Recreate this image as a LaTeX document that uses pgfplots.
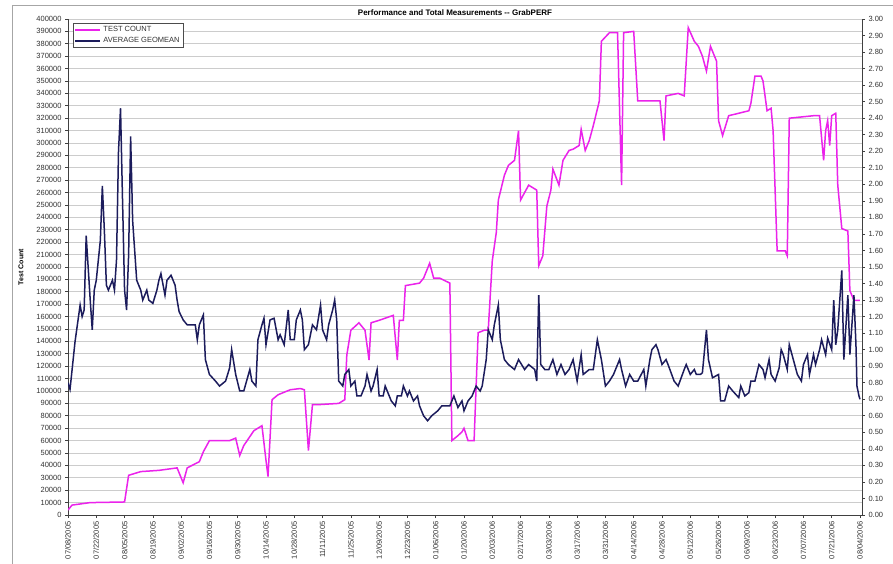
\documentclass[border=0pt]{standalone}
\usepackage{pgfplots}
\pgfplotsset{compat=1.18}
\usepackage{fontspec}
\setmainfont{Liberation Sans}
\definecolor{tcmag}{RGB}{235,35,235}
\definecolor{gmnavy}{RGB}{28,28,92}
\pgfplotstableread{
day count
0 4000
2 8000
11 10000
28 10500
30 32000
36 35000
45 36000
54 38000
57 26000
59 38000
65 43000
67 51000
70 60000
80 60000
83 62000
85 48000
87 56000
92 68000
96 72000
98 44000
99 31000
101 93000
104 97000
110 101000
115 102000
117 101000
119 52000
121 89000
124 89000
134 90000
137 93000
138 129000
140 149000
144 155000
147 149000
149 125000
150 155000
154 157000
161 161000
163 125000
164 157000
166 157000
167 185000
174 187000
176 191000
179 203000
181 191000
184 191000
189 187000
190 60000
193 64000
195 67000
196 70000
198 60000
201 60000
203 147000
206 149000
208 149000
210 205000
212 228000
213 254000
216 274000
218 282000
221 286000
223 310000
224 254000
228 266000
232 262000
233 201000
235 209000
237 249000
239 262000
240 279000
243 266000
245 286000
248 294000
250 295000
253 298000
254 311000
256 294000
258 302000
260 314000
263 334000
264 382000
268 389000
272 389000
274 266000
275 389000
280 390000
282 334000
290 334000
293 334000
295 302000
296 338000
302 340000
305 338000
307 393000
310 382000
312 378000
314 370000
316 358000
318 378000
321 366000
322 318000
324 306000
327 322000
332 324000
337 326000
338 332000
340 354000
343 354000
344 350000
346 326000
348 328000
349 310000
351 213000
355 213000
356 209000
357 320000
369 322000
372 322000
374 286000
375 310000
376 318000
377 298000
378 322000
380 324000
381 266000
383 231000
386 229000
387 181000
389 173000
392 173000
}\counttable
\pgfplotstableread{
day geo
0 0.80
1 0.76
3.5 1.05
6 1.27
7 1.20
8 1.24
9 1.69
11 1.30
12 1.12
13 1.36
14 1.42
16 1.66
17 1.99
18 1.72
19 1.39
20 1.36
22 1.42
23 1.36
24 1.54
25 2.20
26 2.46
27 1.90
28 1.36
29 1.24
30 1.57
31 2.29
32 1.78
34 1.42
36 1.36
37 1.30
39 1.36
40 1.30
42 1.28
44 1.36
45 1.42
46 1.46
48 1.33
49 1.42
51 1.45
53 1.39
54 1.30
55 1.23
57 1.18
59 1.15
60 1.15
63 1.15
64 1.06
65 1.15
67 1.21
68 0.94
70 0.85
73 0.81
75 0.78
78 0.81
80 0.89
81 1.00
83 0.85
85 0.75
87 0.75
90 0.88
91 0.81
93 0.78
94 1.06
96 1.15
97 1.19
98 1.03
100 1.18
102 1.19
104 1.06
105 1.09
107 1.03
109 1.24
110 1.06
112 1.06
113 1.18
115 1.24
116 1.18
117 1.00
119 1.03
121 1.15
123 1.12
125 1.27
126 1.12
128 1.06
129 1.15
131 1.24
132 1.30
133 1.18
134 0.81
136 0.78
137 0.85
139 0.88
140 0.78
142 0.81
143 0.72
145 0.72
147 0.78
148 0.85
150 0.75
151 0.78
153 0.88
154 0.72
156 0.72
157 0.78
159 0.72
160 0.69
162 0.66
163 0.72
165 0.72
166 0.78
168 0.72
169 0.75
171 0.69
173 0.72
174 0.66
176 0.60
178 0.57
180 0.60
183 0.63
185 0.66
187 0.66
189 0.66
191 0.72
193 0.65
195 0.69
196 0.63
198 0.69
200 0.72
202 0.78
204 0.75
205 0.78
207 0.94
208 1.12
210 1.06
211 1.15
213 1.27
214 1.06
216 0.94
218 0.91
221 0.88
223 0.94
226 0.88
228 0.91
231 0.88
232 0.81
233 1.33
234 0.91
236 0.88
238 0.88
240 0.94
242 0.85
244 0.91
246 0.85
248 0.88
250 0.94
252 0.81
254 0.97
255 0.85
258 0.88
260 0.88
262 1.06
264 0.94
266 0.78
268 0.81
270 0.85
273 0.94
274 0.88
276 0.78
278 0.85
280 0.81
282 0.81
285 0.88
286 0.78
288 0.94
289 1.00
291 1.03
292 1.00
294 0.91
296 0.94
297 0.91
300 0.81
302 0.78
305 0.88
306 0.91
308 0.85
310 0.88
311 0.85
313 0.85
314 0.86
316 1.12
317 0.94
319 0.83
322 0.85
323 0.69
325 0.69
327 0.78
329 0.75
332 0.71
333 0.78
335 0.72
337 0.74
338 0.81
340 0.81
342 0.91
344 0.88
345 0.83
347 0.94
348 0.85
350 0.81
352 0.89
353 1.00
354 0.97
356 0.88
357 1.03
359 0.94
361 0.85
363 0.81
364 0.91
366 0.97
367 0.85
369 0.97
370 0.91
372 1.00
373 1.06
375 0.97
376 1.07
378 1.00
379 1.30
380 1.03
381 1.12
383 1.48
384 0.94
386 1.33
387 0.97
389 1.33
390 1.03
390.5 0.78
391.5 0.72
392 0.70
}\geotable
\begin{document}
\begin{tikzpicture}
\useasboundingbox (-68pt,-49pt) rectangle (825pt,515pt);
\fill[white] (-68pt,-49pt) rectangle (825pt,515pt);
\draw[gray!70, line width=0.8pt] (-56pt,-60pt) -- (-56pt,510pt) -- (840pt,510pt);
\begin{axis}[
  at={(0pt,0pt)}, anchor=south west, scale only axis,
  width=794pt, height=496pt,
  xmin=0, xmax=393, ymin=0, ymax=400000,
  axis x line*=bottom, axis y line*=left,
  axis line style={-, black!75, line width=0.8pt},
  ytick={0,10000,...,400000},
  scaled y ticks=false,
  ymajorgrids, grid style={gray!40, line width=0.8pt},
  xtick={0,14,...,392},
  xticklabels={07/08/2005,07/22/2005,08/05/2005,08/19/2005,09/02/2005,09/16/2005,09/30/2005,10/14/2005,10/28/2005,11/11/2005,11/25/2005,12/09/2005,12/23/2005,01/06/2006,01/20/2006,02/03/2006,02/17/2006,03/03/2006,03/17/2006,03/31/2006,04/14/2006,04/28/2006,05/12/2006,05/26/2006,06/09/2006,06/23/2006,07/07/2006,07/21/2006,08/04/2006},
  xticklabel style={rotate=90, anchor=east, font=\fontsize{7.5}{8}\selectfont, text=black!80},
  yticklabel style={font=\fontsize{7.5}{8}\selectfont, text=black!80},
  tick align=outside, major tick length=3pt,
  tick style={black!75, line width=0.6pt},
  /pgf/number format/fixed, /pgf/number format/precision=0,
  /pgf/number format/1000 sep={}, /pgf/number format/assume math mode=true,
]
\addplot[tcmag, line width=1.5pt] table[x=day, y=count] {\counttable};
\end{axis}
\begin{axis}[
  at={(0pt,0pt)}, anchor=south west, scale only axis,
  width=794pt, height=496pt,
  xmin=0, xmax=393, ymin=0, ymax=3,
  axis x line=none, axis y line*=right,
  axis line style={-, black!75, line width=0.8pt},
  ytick distance=0.1,
  yticklabel style={font=\fontsize{7.5}{8}\selectfont, text=black!80},
  tick align=outside, major tick length=3pt,
  tick style={black!75, line width=0.6pt},
  /pgf/number format/fixed, /pgf/number format/fixed zerofill,
  /pgf/number format/precision=2, /pgf/number format/assume math mode=true,
  legend style={at={(0.006,0.992)}, anchor=north west, draw=black!70, fill=white,
    font=\fontsize{7.5}{8}\selectfont, inner sep=1.5pt, row sep=0pt, text=black!80},
  legend cell align=left,
  legend image code/.code={\draw[#1] (0pt,0pt) -- (25pt,0pt);},
]
\addlegendimage{tcmag, line width=2pt}
\addlegendentry{TEST COUNT}
\addplot[gmnavy, line width=1.5pt] table[x=day, y=geo] {\geotable};
\addlegendentry{AVERAGE GEOMEAN}
\end{axis}
\node[font=\bfseries\fontsize{8}{9}\selectfont] at (387pt,502pt) {Performance and Total Measurements -{}- GrabPERF};
\node[rotate=90, font=\bfseries\fontsize{7}{8}\selectfont] at (-47pt,248pt) {Test Count};
\end{tikzpicture}
\end{document}
